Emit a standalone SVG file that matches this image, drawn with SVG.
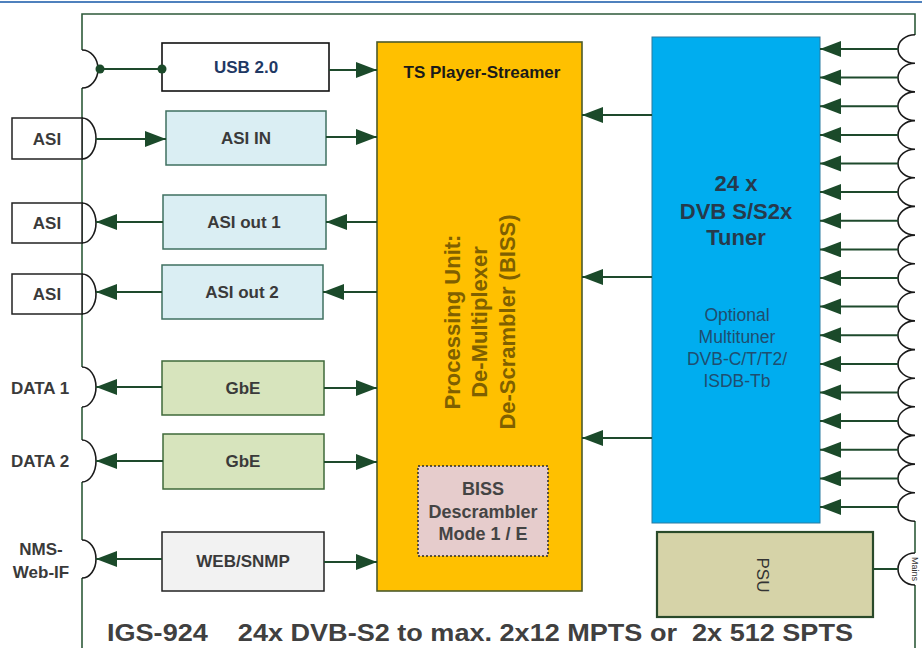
<svg xmlns="http://www.w3.org/2000/svg" width="922" height="648" viewBox="0 0 922 648">
<style>
.ln{stroke:#1e4a2c;stroke-width:2;fill:none}
.fr{stroke:#2e5a3a;stroke-width:1.6;fill:none}
.bump{stroke:#1a1a1a;stroke-width:1.6;fill:none}
.t{font-family:"Liberation Sans",Arial,sans-serif;font-weight:bold;fill:#3a3a3a;text-anchor:middle}
.lbl{fill:#fff;stroke:#222;stroke-width:1.5}
.asi{fill:#daeef3;stroke:#3f7060;stroke-width:1.5}
.gbe{fill:#d7e4bd;stroke:#3f6a3a;stroke-width:1.5}
</style>
<defs>
<marker id="ah" markerUnits="userSpaceOnUse" markerWidth="24" markerHeight="18" refX="21" refY="8" orient="auto">
<path d="M0,0 L21,8 L0,16 z" fill="#1b4a2a"/>
</marker>
<marker id="dot" markerUnits="userSpaceOnUse" markerWidth="10" markerHeight="10" refX="5" refY="5">
<circle cx="5" cy="5" r="4.5" fill="#1b4a2a"/>
</marker>
</defs>
<rect width="922" height="648" fill="#fff"/>
<line x1="0" y1="2" x2="922" y2="2" stroke="#4f81bd" stroke-width="2"/>

<g id="frame">
<path class="fr" d="M82,50 V14 H915 V35"/>
<path class="fr" d="M82,88 V367 M82,407 V440 M82,482 V540 M82,578 V648"/>
<path class="fr" d="M915,521 V553 M915,585 V648"/>
</g>

<g id="left-ports">
<g id="port-usb"><path class="bump" d="M82,50 A16,19 0 0 1 82,88"/></g>
<g id="port-asi-in"><rect class="lbl" x="12" y="118" width="70" height="41"/><path class="bump" d="M82,118 A14,20.5 0 0 1 82,159"/><text class="t" x="47" y="145" font-size="17">ASI</text></g>
<g id="port-asi-out1"><rect class="lbl" x="12" y="203" width="70" height="40"/><path class="bump" d="M82,203 A14,20 0 0 1 82,243"/><text class="t" x="47" y="229" font-size="17">ASI</text></g>
<g id="port-asi-out2"><rect class="lbl" x="12" y="274" width="70" height="40"/><path class="bump" d="M82,274 A14,20 0 0 1 82,314"/><text class="t" x="47" y="300" font-size="17">ASI</text></g>
<g id="port-data1"><path class="bump" d="M82,367 A14,20 0 0 1 82,407"/><text class="t" x="40" y="394" font-size="17">DATA 1</text></g>
<g id="port-data2"><path class="bump" d="M82,440 A14,21 0 0 1 82,482"/><text class="t" x="40" y="467" font-size="17">DATA 2</text></g>
<g id="port-nms"><path class="bump" d="M82,540 A14,19 0 0 1 82,578"/><text class="t" x="41" y="555" font-size="17">NMS-</text><text class="t" x="41" y="578" font-size="17">Web-IF</text></g>
</g>

<g id="usb"><rect x="162" y="43" width="167" height="48" fill="#fff" stroke="#111" stroke-width="1.6"/><text class="t" x="246" y="73" font-size="17" style="fill:#1f3864">USB 2.0</text></g>
<g id="asi-in"><rect class="asi" x="166" y="111" width="160" height="54"/><text class="t" x="246" y="144" font-size="17">ASI IN</text></g>
<g id="asi-out1"><rect class="asi" x="163" y="195" width="163" height="54"/><text class="t" x="244" y="228" font-size="17">ASI out 1</text></g>
<g id="asi-out2"><rect class="asi" x="162" y="265" width="161" height="54"/><text class="t" x="242" y="298" font-size="17">ASI out 2</text></g>
<g id="gbe1"><rect class="gbe" x="162" y="361" width="162" height="54"/><text class="t" x="243" y="394" font-size="17">GbE</text></g>
<g id="gbe2"><rect class="gbe" x="163" y="434" width="161" height="55"/><text class="t" x="243" y="467" font-size="17">GbE</text></g>
<g id="web"><rect x="162" y="532" width="162" height="59" fill="#f2f2f2" stroke="#222" stroke-width="1.5"/><text class="t" x="243" y="567" font-size="17">WEB/SNMP</text></g>

<g id="processing">
<rect x="377" y="42" width="205" height="549" fill="#ffc000" stroke="#4d5a2a" stroke-width="1.6"/>
<text class="t" x="482" y="78" font-size="17" style="fill:#1a1a1a">TS Player-Streamer</text>
<text class="t" transform="translate(480,322) rotate(-90)" font-size="22" style="fill:#7f6000"><tspan x="0" y="-20">Processing Unit:</tspan><tspan x="0" y="7">De-Multiplexer</tspan><tspan x="0" y="35">De-Scrambler (BISS)</tspan></text>
</g>
<g id="biss">
<rect x="418" y="466" width="130" height="90" fill="#e6cccc" stroke="#2a2a2a" stroke-width="1.5" stroke-dasharray="2,2"/>
<text class="t" x="483" y="495" font-size="18" style="fill:#444">BISS</text>
<text class="t" x="483" y="518" font-size="18" style="fill:#444">Descrambler</text>
<text class="t" x="483" y="540" font-size="18" style="fill:#444">Mode 1 / E</text>
</g>

<g id="tuner">
<rect x="652" y="37" width="168" height="486" fill="#00adef" stroke="#2a7aa0" stroke-width="1"/>
<text class="t" x="736" y="191" font-size="22" style="fill:#263a4c">24 x</text>
<text class="t" x="736" y="219" font-size="22" style="fill:#263a4c">DVB S/S2x</text>
<text class="t" x="736" y="245" font-size="22" style="fill:#263a4c">Tuner</text>
<g font-family="'Liberation Sans',Arial,sans-serif" font-size="17.5" fill="#1f4e70" text-anchor="middle">
<text x="737" y="321">Optional</text>
<text x="737" y="343">Multituner</text>
<text x="737" y="365">DVB-C/T/T2/</text>
<text x="737" y="387">ISDB-Tb</text>
</g>
</g>

<g id="psu">
<rect x="657" y="532" width="216" height="85" fill="#d6d3a8" stroke="#2a4a2a" stroke-width="2.2"/>
<text transform="translate(763,575) rotate(90)" x="0" y="6" font-family="'Liberation Sans',Arial,sans-serif" font-size="17" fill="#333" text-anchor="middle">PSU</text>
</g>

<g id="right-ports">
<path class="bump" d="M915,34.7 A17,14.3 0 0 0 915,63.3 A17,14.3 0 0 0 915,91.9 A17,14.3 0 0 0 915,120.6 A17,14.3 0 0 0 915,149.2 A17,14.3 0 0 0 915,177.8 A17,14.3 0 0 0 915,206.4 A17,14.3 0 0 0 915,235.1 A17,14.3 0 0 0 915,263.7 A17,14.3 0 0 0 915,292.3 A17,14.3 0 0 0 915,320.9 A17,14.3 0 0 0 915,349.6 A17,14.3 0 0 0 915,378.2 A17,14.3 0 0 0 915,406.8 A17,14.3 0 0 0 915,435.4 A17,14.3 0 0 0 915,464.1 A17,14.3 0 0 0 915,492.7 A17,14.3 0 0 0 915,521.3"/>
<path class="bump" d="M915,553 A17,16 0 0 0 915,585"/>
<text transform="translate(912,569) rotate(90)" font-family="'Liberation Sans',Arial,sans-serif" font-size="9" fill="#333" text-anchor="middle">Mains</text>
</g>

<g id="connectors">
<line class="ln" x1="100" y1="69" x2="162" y2="69" marker-start="url(#dot)" marker-end="url(#dot)"/>
<line class="ln" x1="329" y1="70" x2="377" y2="70" marker-end="url(#ah)"/>
<line class="ln" x1="96" y1="139" x2="166" y2="139" marker-end="url(#ah)"/>
<line class="ln" x1="326" y1="137" x2="377" y2="137" marker-end="url(#ah)"/>
<line class="ln" x1="163" y1="222" x2="96" y2="222" marker-end="url(#ah)"/>
<line class="ln" x1="377" y1="222" x2="326" y2="222" marker-end="url(#ah)"/>
<line class="ln" x1="162" y1="292" x2="96" y2="292" marker-end="url(#ah)"/>
<line class="ln" x1="377" y1="292" x2="323" y2="292" marker-end="url(#ah)"/>
<line class="ln" x1="162" y1="387" x2="96" y2="387" marker-end="url(#ah)"/>
<line class="ln" x1="324" y1="388" x2="377" y2="388" marker-end="url(#ah)"/>
<line class="ln" x1="163" y1="461" x2="96" y2="461" marker-end="url(#ah)"/>
<line class="ln" x1="324" y1="462" x2="377" y2="462" marker-end="url(#ah)"/>
<line class="ln" x1="162" y1="559" x2="96" y2="559" marker-end="url(#ah)"/>
<line class="ln" x1="324" y1="562" x2="377" y2="562" marker-end="url(#ah)"/>
<line class="ln" x1="652" y1="115" x2="582" y2="115" marker-end="url(#ah)"/>
<line class="ln" x1="652" y1="277" x2="582" y2="277" marker-end="url(#ah)"/>
<line class="ln" x1="652" y1="438" x2="582" y2="438" marker-end="url(#ah)"/>
<g>
<line class="ln" x1="898" y1="49" x2="820" y2="49" marker-end="url(#ah)"/>
<line class="ln" x1="898" y1="77.6" x2="820" y2="77.6" marker-end="url(#ah)"/>
<line class="ln" x1="898" y1="106.3" x2="820" y2="106.3" marker-end="url(#ah)"/>
<line class="ln" x1="898" y1="134.9" x2="820" y2="134.9" marker-end="url(#ah)"/>
<line class="ln" x1="898" y1="163.5" x2="820" y2="163.5" marker-end="url(#ah)"/>
<line class="ln" x1="898" y1="192.1" x2="820" y2="192.1" marker-end="url(#ah)"/>
<line class="ln" x1="898" y1="220.8" x2="820" y2="220.8" marker-end="url(#ah)"/>
<line class="ln" x1="898" y1="249.4" x2="820" y2="249.4" marker-end="url(#ah)"/>
<line class="ln" x1="898" y1="278" x2="820" y2="278" marker-end="url(#ah)"/>
<line class="ln" x1="898" y1="306.6" x2="820" y2="306.6" marker-end="url(#ah)"/>
<line class="ln" x1="898" y1="335.3" x2="820" y2="335.3" marker-end="url(#ah)"/>
<line class="ln" x1="898" y1="363.9" x2="820" y2="363.9" marker-end="url(#ah)"/>
<line class="ln" x1="898" y1="392.5" x2="820" y2="392.5" marker-end="url(#ah)"/>
<line class="ln" x1="898" y1="421.1" x2="820" y2="421.1" marker-end="url(#ah)"/>
<line class="ln" x1="898" y1="449.8" x2="820" y2="449.8" marker-end="url(#ah)"/>
<line class="ln" x1="898" y1="478.4" x2="820" y2="478.4" marker-end="url(#ah)"/>
<line class="ln" x1="898" y1="507" x2="820" y2="507" marker-end="url(#ah)"/>
</g>
<line class="ln" x1="873" y1="569" x2="898" y2="569"/>
</g>

<text class="t" x="107" y="641" font-size="23" text-anchor="start" style="text-anchor:start;fill:#404040" textLength="746" lengthAdjust="spacingAndGlyphs" xml:space="preserve">IGS-924    24x DVB-S2 to max. 2x12 MPTS or  2x 512 SPTS</text>
</svg>
